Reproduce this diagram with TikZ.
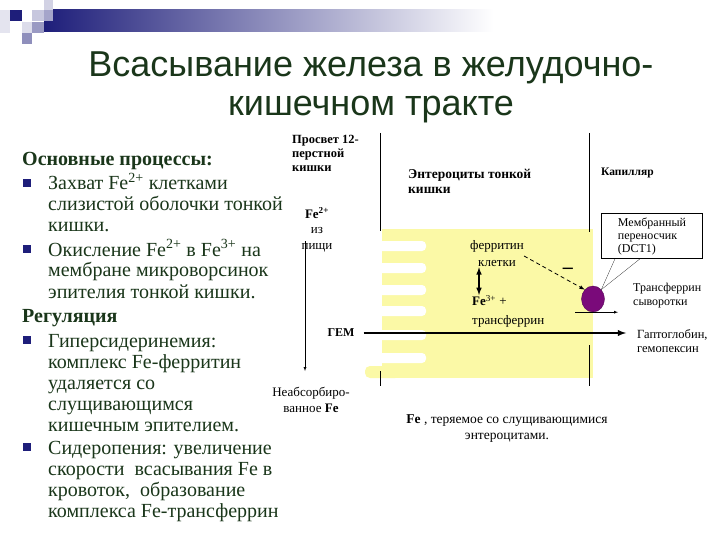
\documentclass[tikz,border=0pt]{standalone}
\usepackage{fontspec}
\setmainfont{Liberation Serif}
\newfontfamily\headfont{Liberation Sans}
\usetikzlibrary{shapes.geometric}
\definecolor{slidegreen}{HTML}{1A361A}
\definecolor{slidenavy}{HTML}{1E1E7A}
\definecolor{cellyellow}{HTML}{FBF9A6}
\definecolor{ironpurple}{HTML}{7A0A7A}
\begin{document}
\begin{tikzpicture}[x=1pt,y=-1pt,
    body/.style={anchor=base west,align=left,inner sep=0pt,text=slidegreen,font=\fontsize{20}{21}\selectfont},
    bodyhead/.style={body,font=\bfseries\fontsize{20}{21}\selectfont},
    bullet/.style={fill=slidenavy,minimum size=8.5pt,inner sep=0pt},
    lbl/.style={align=center,inner sep=0pt,font=\fontsize{13}{16}\selectfont},
    blbl/.style={align=left,inner sep=0pt,font=\bfseries\fontsize{12}{14}\selectfont}]
    \useasboundingbox[fill=white] (0,0) rectangle (720,540);
    \fill[slidenavy!12] (0,10) rectangle (10,33);
    \shade[left color=slidenavy,right color=white] (44,10) rectangle (493,32);
    \fill[slidenavy] (10,10) rectangle (22,21);
    \fill[slidenavy!25] (32,10) rectangle (44,21);
    \fill[slidenavy!20] (44,0) rectangle (53,10);
    \fill[slidenavy!40] (44,10) rectangle (53,21);
    \fill[slidenavy!15] (22,22) rectangle (32,33);
    \fill[slidenavy!45] (32,22) rectangle (44,33);
    \fill[slidenavy!50] (22,33) rectangle (32,44);
    \node[anchor=base,align=center,inner sep=0pt,text=slidegreen,font=\headfont\fontsize{36}{39}\selectfont] (title) at (371,116) {Всасывание железа в желудочно-\\кишечном тракте};
    \node[bodyhead] (head1) at (22,166) {Основные процессы:};
    \node[body] (z1) at (48,232) {Захват Fe\textsuperscript{2+} клетками\\слизистой оболочки тонкой\\кишки.};
    \node[body] (z2) at (48,298) {Окисление Fe\textsuperscript{2+} в Fe\textsuperscript{3+} на\\мембране микроворсинок\\эпителия тонкой кишки.};
    \node[bodyhead] (head2) at (22,322) {Регуляция};
    \node[body] (z3) at (48,431) {Гиперсидеринемия:\\комплекс Fe-ферритин\\удаляется со\\слущивающимся\\кишечным эпителием.};
    \node[body] (z4) at (48,517) {Сидеропения: увеличение\\скорости\ \ всасывания Fe в\\кровоток,\ \ образование\\комплекса Fe-трансферрин};
    \node[bullet] (b1) at ([shift={(-21,-49)}]z1.base west) {};
    \node[bullet] (b2) at ([shift={(-21,-49)}]z2.base west) {};
    \node[bullet] (b3) at ([shift={(-21,-91)}]z3.base west) {};
    \node[bullet] (b4) at ([shift={(-21,-70)}]z4.base west) {};
    \fill[cellyellow] (382,229) rectangle (593,378);
    \fill[cellyellow,rounded corners=5] (365,366) rectangle (400,378);
    \foreach \y in {246,268,290,311,335,358}
        \fill[white,rounded corners=4] (376,\y-5) rectangle (426,\y+5);
    \draw (380,133) -- (380,231);
    \draw (380,371) -- (380,386);
    \draw (589,133) -- (589,232);
    \draw (589,345) -- (589,386);
    \node[blbl,anchor=north west,font=\bfseries\fontsize{12.5}{14}\selectfont] (lumen) at (292,135) {Просвет 12-\\перстной\\кишки};
    \node[blbl,anchor=north west,font=\bfseries\fontsize{13.5}{15.5}\selectfont] (entero) at (408,169) {Энтероциты тонкой\\кишки};
    \node[blbl,anchor=west,font=\bfseries\fontsize{11.5}{14}\selectfont] (capil) at (601,173) {Капилляр};
    \node[blbl,font=\bfseries\fontsize{13}{14}\selectfont] (fe2) at (317,213) {Fe\textsuperscript{2+}};
    \node[lbl] (iz) at (317,231) {из};
    \node[lbl] (food) at (317,248) {пищи};
    \coordinate (dropstart) at (305,241);
    \coordinate (dropend) at (305,371);
    \draw[-latex] (dropstart) -- (dropend);
    \node[lbl] (unabs) at (311,400) {Неабсорбиро-\\ванное \textbf{Fe}};
    \node[blbl] (hem) at (341,333) {ГЕМ};
    \node[lbl,align=left,anchor=north west,font=\fontsize{12.5}{14}\selectfont] (hapto) at (637,329) {Гаптоглобин,\\гемопексин};
    \draw[line width=1.8pt,-latex,shorten <=9pt,shorten >=11pt] (hem.east) -- (hem.east -| hapto.west);
    \node[draw,align=left,inner sep=4pt,minimum width=101pt,minimum height=44pt,font=\fontsize{12}{13}\selectfont] (dct) at (652,236) {Мембранный\\переносчик\\(DCT1)};
    \node[ellipse,fill=ironpurple,draw=ironpurple!70!black,minimum width=23pt,minimum height=26pt,inner sep=0pt] (carrier) at (593,299) {};
    \draw[very thin] (carrier.north east) -- ([xshift=-37pt]dct.south);
    \draw[very thin] (carrier.north east) -- ([xshift=-12pt]dct.south);
    \draw[-latex] ([xshift=-18pt]carrier.south) -- ([xshift=25pt]carrier.south);
    \node[lbl,align=left,anchor=north west,font=\fontsize{12}{14}\selectfont] (serum) at (633,283) {Трансферрин\\сыворотки};
    \node[lbl,font=\fontsize{13}{17}\selectfont] (ferr) at (497,254) {ферритин\\клетки};
    \node[lbl,align=left,anchor=north west,font=\fontsize{13}{19}\selectfont] (fe3) at (472,295) {\textbf{Fe}\textsuperscript{3+} +\\трансферрин};
    \draw[line width=1.5pt,latex-latex] ([xshift=-18pt]ferr.south) -- ([xshift=-18pt]ferr.south |- fe3.north);
    \draw[thick,dash pattern=on 4pt off 3pt,-latex] ([yshift=-2pt]ferr.east) -- (carrier.north west) node[pos=0.6,above right=2pt,font=\bfseries\fontsize{20}{20}\selectfont,inner sep=0pt] (minus) {--};
    \node[lbl,font=\fontsize{13.5}{16}\selectfont] (shed) at (507,429) {\textbf{Fe} , теряемое со слущивающимися\\энтероцитами.};
\end{tikzpicture}
\end{document}
